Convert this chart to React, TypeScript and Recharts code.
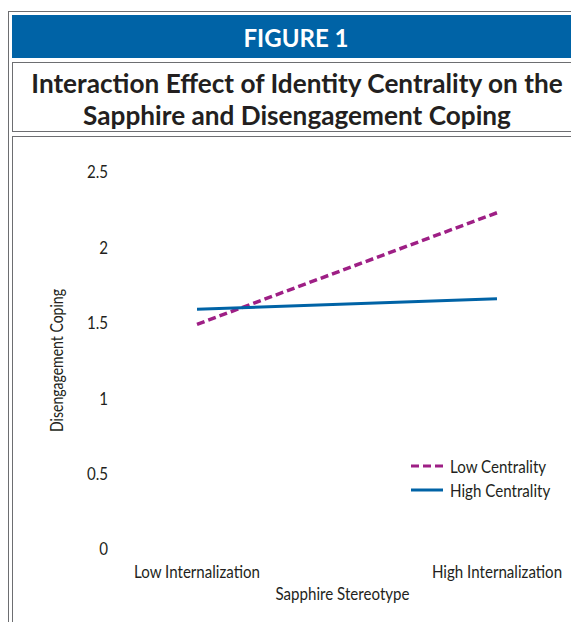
import { Legend, Line, LineChart, XAxis, YAxis } from "recharts";

const categories = ["Low Internalization", "High Internalization"];
const lowCentrality = [1.49, 2.23];
const highCentrality = [1.59, 1.66];
const yTicks = [0, 0.5, 1, 1.5, 2, 2.5];
const seriesOrder = ["Low Centrality", "High Centrality"];

const data = categories.map((c, i) => ({
  name: c,
  low: lowCentrality[i],
  high: highCentrality[i],
}));

const FONT = "Lato, 'Open Sans', sans-serif";
const SIZE = 18;
const SQUEEZE = 0.84; // the original uses a condensed face
const INK = "#231f20";
const FRAME = "#6d6e71";
const BLUE = "#0063a6";
const MAGENTA = "#9e1f85";

function XTick({ x, y, payload }: any) {
  return (
    <g transform={`translate(${x},${y})`}>
      <text transform={`scale(${SQUEEZE},1)`} textAnchor="middle" dy="0.71em" fill={INK} fontSize={SIZE} fontFamily={FONT}>
        {payload.value}
      </text>
    </g>
  );
}

function YTick({ x, y, payload }: any) {
  return (
    <g transform={`translate(${x},${y})`}>
      <text transform={`scale(${SQUEEZE},1)`} textAnchor="end" dy="0.355em" fill={INK} fontSize={SIZE} fontFamily={FONT}>
        {payload.value}
      </text>
    </g>
  );
}

function XLabel({ viewBox }: any) {
  const cx = viewBox.x + viewBox.width / 2 + 14;
  return (
    <g transform={`translate(${cx},${viewBox.y + 51})`}>
      <text transform={`scale(${SQUEEZE},1)`} textAnchor="middle" fill={INK} fontSize={SIZE} fontFamily={FONT}>
        Sapphire Stereotype
      </text>
    </g>
  );
}

function YLabel({ viewBox }: any) {
  const cx = viewBox.x + viewBox.width / 2 - 9;
  const cy = viewBox.y + viewBox.height / 2;
  return (
    <g transform={`translate(${cx},${cy}) rotate(-90)`}>
      <text transform="scale(0.78,1)" textAnchor="middle" dy="0.355em" fill={INK} fontSize={SIZE} fontFamily={FONT}>
        Disengagement Coping
      </text>
    </g>
  );
}

function LegendBox({ payload }: any) {
  const items = [...(payload || [])].sort(
    (a: any, b: any) => seriesOrder.indexOf(a.value) - seriesOrder.indexOf(b.value)
  );
  return (
    <div style={{ fontFamily: FONT, fontSize: SIZE, color: INK }}>
      {items.map((p: any) => (
        <div key={p.value} style={{ display: "flex", alignItems: "center", height: 24 }}>
          <svg width={32} height={6} style={{ marginRight: 7 }}>
            <line
              x1={0}
              y1={3}
              x2={32}
              y2={3}
              stroke={p.color}
              strokeWidth={3}
              strokeDasharray={p.payload?.strokeDasharray}
            />
          </svg>
          <span style={{ display: "inline-block", transform: `scaleX(${SQUEEZE})`, transformOrigin: "left center", whiteSpace: "nowrap" }}>
            {p.value}
          </span>
        </div>
      ))}
    </div>
  );
}

export default function App() {
  return (
    <div style={{ position: "fixed", left: 0, top: 0, width: 571, height: 622, overflow: "hidden", color: INK, background: "#fff" }}>
      <div
        style={{
          position: "absolute",
          left: 8,
          top: 11,
          width: 600,
          height: 700,
          borderLeft: `1px solid ${FRAME}`,
          borderTop: `1px solid ${FRAME}`,
        }}
      />
      <div
        style={{
          position: "absolute",
          left: 12,
          top: 15,
          width: 568,
          height: 43,
          background: BLUE,
          color: "#fff",
          fontFamily: FONT,
          fontWeight: 700,
          fontSize: 24,
          lineHeight: "45px",
          textAlign: "center",
        }}
      >
        FIGURE 1
      </div>
      <div
        style={{
          position: "absolute",
          left: 12,
          top: 62,
          width: 570,
          height: 70,
          boxSizing: "border-box",
          border: `1px solid ${FRAME}`,
          paddingTop: 4,
          fontFamily: FONT,
          fontWeight: 700,
          fontSize: 26.2,
          lineHeight: "32px",
          textAlign: "center",
          whiteSpace: "nowrap",
        }}
      >
        Interaction Effect of Identity Centrality on the
        <br />
        Sapphire and Disengagement Coping
      </div>
      <div
        style={{
          position: "absolute",
          left: 12,
          top: 136,
          width: 600,
          height: 600,
          border: `1px solid ${FRAME}`,
        }}
      />
      <div style={{ position: "absolute", left: 12, top: 137 }}>
        <LineChart width={559} height={485} data={data} margin={{ top: 35, right: 34, left: 0, bottom: 0 }}>
          <XAxis
            dataKey="name"
            scale="point"
            padding={{ left: 77, right: 40 }}
            height={73}
            axisLine={false}
            tickLine={false}
            tickSize={0}
            tickMargin={16}
            tick={<XTick />}
            label={<XLabel />}
          />
          <YAxis
            domain={[0, 2.5]}
            ticks={yTicks}
            width={108}
            axisLine={false}
            tickLine={false}
            tickSize={0}
            tickMargin={12}
            tick={<YTick />}
            label={<YLabel />}
          />
          <Legend
            content={<LegendBox />}
            layout="vertical"
            align="center"
            verticalAlign="middle"
            wrapperStyle={{ position: "absolute", left: 399, top: 317, width: 160, bottom: "auto" }}
          />
          <Line
            dataKey="low"
            name="Low Centrality"
            stroke={MAGENTA}
            strokeWidth={3.5}
            strokeDasharray="8 4"
            dot={false}
            isAnimationActive={false}
          />
          <Line
            dataKey="high"
            name="High Centrality"
            stroke={BLUE}
            strokeWidth={3}
            dot={false}
            isAnimationActive={false}
          />
        </LineChart>
      </div>
    </div>
  );
}
